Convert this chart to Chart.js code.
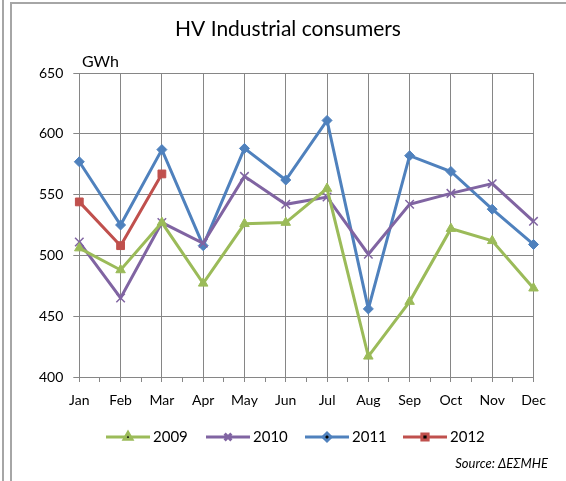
<html lang="en">
<head>
<meta charset="utf-8">
<script src="https://cdn.jsdelivr.net/npm/chart.js@4.4.1/dist/chart.umd.min.js"></script>
<title>HV Industrial consumers</title>
<style>
    body { margin:0; background:#ffffff; }
    #wrap { position:relative; width:566px; height:481px; overflow:hidden; }
    #lineA { position:absolute; left:2px; top:0; width:2px; height:481px; background:#a6a6a6; }
    #frame { position:absolute; left:10px; top:2px; width:554px; height:490px;
             border-left:2px solid #a6a6a6; border-top:2px solid #a6a6a6; border-right:1px solid #cfcfcf; }
    canvas { position:absolute; left:0; top:0; }
</style>
</head>
<body>
<div id="wrap">
    <div id="lineA"></div>
    <div id="frame"></div>
    <canvas id="hv" width="566" height="481"></canvas>
</div>
<script>
    // values (GWh)
    var months = ["Jan","Feb","Mar","Apr","May","Jun","Jul","Aug","Sep","Oct","Nov","Dec"];
    var y2009 = [506, 488, 527, 477, 526, 527, 555, 417, 462, 522, 512, 473];
    var y2010 = [511, 465, 527, 510, 565, 542, 548, 501, 542, 551, 559, 528];
    var y2011 = [577, 525, 587, 508, 588, 562, 611, 456, 582, 569, 538, 509];
    var y2012 = [544, 508, 567];
    var yTicks = [400, 450, 500, 550, 600, 650];

    var FONT = "Lato, 'Open Sans', sans-serif";
    var GRID = "#868686";
    var INK = "#000000";

    function pts(arr) {
        return arr.map(function (v, i) { return {x: i, y: v}; });
    }

    var series = [
        {label: "2009", data: y2009, color: "#9bbb59", style: "triangle", r: 5.5},
        {label: "2010", data: y2010, color: "#8064a2", style: "crossRot", r: 6},
        {label: "2011", data: y2011, color: "#4f81bd", style: "rectRot", r: 5},
        {label: "2012", data: y2012, color: "#c0504d", style: "rect", r: 5.5}
    ];

    // title, unit, legend and source note
    var extras = {
        id: "extras",
        afterDraw: function (chart) {
            var c = chart.ctx;
            c.save();
            c.fillStyle = INK;
            c.textBaseline = "middle";
            c.textAlign = "center";
            c.font = "21px " + FONT;
            c.fillText("HV Industrial consumers", 288, 29);
            c.textAlign = "left";
            c.font = "16px " + FONT;
            c.fillText("GWh", 82, 62);

            // legend
            var lx = [106, 206, 305, 403];
            chart.data.datasets.forEach(function (ds, k) {
                var x0 = lx[k], yy = 437;
                c.strokeStyle = ds.borderColor;
                c.lineWidth = 3;
                c.beginPath(); c.moveTo(x0, yy); c.lineTo(x0 + 44, yy); c.stroke();
                Chart.helpers.drawPoint(c, {pointStyle: ds.pointStyle, radius: ds.pointRadius * 0.8,
                    borderWidth: ds.pointBorderWidth, rotation: 0}, x0 + 22, yy);
                c.fillStyle = INK;
                c.font = "15px " + FONT;
                c.fillText(ds.label, x0 + 47, yy);
            });

            c.textAlign = "right";
            c.font = "italic 13px " + FONT;
            c.fillText("Source: ΔΕΣΜΗΕ", 548, 464);
            c.restore();
        }
    };

    new Chart(document.getElementById("hv"), {
        type: "line",
        data: {
            datasets: series.map(function (s) {
                return {
                    label: s.label,
                    data: pts(s.data),
                    borderColor: s.color,
                    backgroundColor: s.color,
                    borderWidth: 3,
                    pointStyle: s.style,
                    pointRadius: s.r,
                    pointBorderColor: s.color,
                    pointBackgroundColor: s.color,
                    pointBorderWidth: s.style == "crossRot" ? 1.5 : 1,
                    tension: 0,
                    clip: false
                };
            })
        },
        options: {
            responsive: false,
            animation: false,
            layout: {padding: {left: 0, top: 73, right: 32.5, bottom: 74}},
            plugins: {legend: {display: false}, title: {display: false}, tooltip: {enabled: false}},
            scales: {
                x: {
                    type: "linear",
                    min: 0, max: 11,
                    afterBuildTicks: function (scale) {
                        var t = [];
                        for (var v = 0; v <= 11; v += 0.5) t.push({value: v});
                        scale.ticks = t;
                    },
                    afterFit: function (scale) { scale.height = 30; },
                    grid: {
                        color: function (ctx) {
                            return ctx.tick && Number.isInteger(ctx.tick.value) ? GRID : "rgba(0,0,0,0)";
                        },
                        tickColor: GRID,
                        tickLength: 5,
                        lineWidth: 1
                    },
                    border: {color: GRID, width: 1},
                    ticks: {
                        autoSkip: false,
                        maxRotation: 0,
                        padding: 10,
                        color: INK,
                        font: {family: FONT, size: 14},
                        callback: function (v) { return Number.isInteger(v) ? months[v] : ""; }
                    }
                },
                y: {
                    min: 400, max: 650,
                    afterBuildTicks: function (scale) {
                        scale.ticks = yTicks.map(function (v) { return {value: v}; });
                    },
                    afterFit: function (scale) { scale.width = 79.3; },
                    grid: {color: GRID, tickColor: GRID, tickLength: 6, lineWidth: 1},
                    border: {color: GRID, width: 1},
                    ticks: {
                        padding: 10,
                        color: INK,
                        font: {family: FONT, size: 14}
                    }
                }
            }
        },
        plugins: [extras]
    });
</script>
</body>
</html>
